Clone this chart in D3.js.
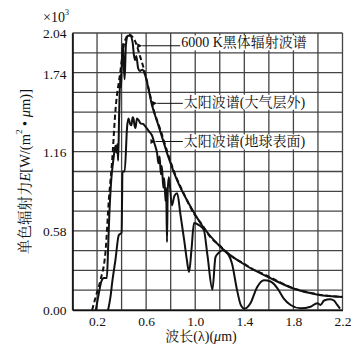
<!DOCTYPE html>
<html>
<head>
<meta charset="utf-8">
<script src="https://cdn.jsdelivr.net/npm/d3@7"></script>
<style>
body { margin: 0; background: #fff; }
svg { font-family: "Liberation Serif", "Noto Serif CJK SC", "Noto Sans CJK SC", serif; }
</style>
</head>
<body>
<div id="chart"></div>
<script>
// [波长 μm, 单色辐射力 ×10^3]
var blackBody = [
  [0.16,0.00],[0.19,0.10],[0.228,0.22],[0.27,0.44],[0.296,0.81],[0.323,1.10],[0.35,1.47],
  [0.39,1.755],[0.418,1.95],[0.44,2.01],[0.456,2.03],[0.48,2.02],[0.51,1.98],[0.55,1.87],
  [0.595,1.73],[0.63,1.59],[0.663,1.47],[0.717,1.325],[0.785,1.13],[0.84,0.99],[0.9,0.87],
  [0.99,0.71],[1.05,0.635],[1.125,0.535],[1.2,0.475],[1.26,0.42],[1.33,0.375],[1.4,0.34],
  [1.47,0.30],[1.53,0.275],[1.614,0.24],[1.7,0.20],[1.8,0.16],[1.9,0.135],[2.0,0.115],
  [2.1,0.103],[2.2,0.097]
];
var solarOuter = [
  [0.19,0.00],[0.21,0.10],[0.235,0.21],[0.255,0.235],[0.28,0.235],[0.29,0.45],[0.30,0.70],
  [0.315,0.95],[0.335,1.12],[0.35,1.21],[0.358,1.16],[0.365,1.22],[0.372,1.10],[0.38,1.44],
  [0.39,1.73],[0.395,1.64],[0.40,1.76],[0.41,1.96],[0.418,1.80],[0.425,1.70],[0.435,1.95],
  [0.45,2.02],[0.47,2.02],[0.49,1.97],[0.50,1.88],[0.51,1.84],[0.52,1.87],[0.535,1.78],
  [0.55,1.76],[0.57,1.77],[0.595,1.72],[0.65,1.50],[0.70,1.36],[0.78,1.13],[0.85,0.96],
  [0.95,0.78],[1.05,0.63],[1.2,0.47],[1.4,0.335],[1.6,0.24],[1.8,0.158],[2.0,0.113],[2.2,0.096]
];
var solarGround = [
  [0.29,0.00],[0.31,0.10],[0.323,0.20],[0.35,0.37],[0.377,0.55],[0.40,0.57],[0.404,0.81],
  [0.407,1.02],[0.425,1.02],[0.445,1.35],[0.456,1.41],[0.47,1.37],[0.48,1.36],[0.49,1.42],
  [0.497,1.41],[0.505,1.36],[0.513,1.34],[0.525,1.41],[0.538,1.40],[0.554,1.375],[0.575,1.37],
  [0.595,1.35],[0.62,1.32],[0.65,1.28],[0.67,1.22],[0.69,1.15],[0.70,1.08],[0.71,1.13],
  [0.72,1.00],[0.728,1.06],[0.74,0.90],[0.748,0.97],[0.758,0.80],[0.763,0.90],[0.77,0.50],
  [0.776,0.88],[0.785,0.98],[0.81,0.77],[0.83,0.84],[0.853,0.86],[0.88,0.70],[0.91,0.515],
  [0.93,0.38],[0.95,0.28],[0.97,0.45],[0.99,0.64],[1.03,0.625],[1.07,0.59],[1.10,0.40],
  [1.14,0.15],[1.165,0.39],[1.19,0.42],[1.22,0.44],[1.26,0.42],[1.30,0.34],[1.34,0.15],
  [1.37,0.04],[1.40,0.01],[1.45,0.05],[1.505,0.17],[1.56,0.22],[1.614,0.21],[1.67,0.16],
  [1.72,0.086],[1.777,0.037],[1.86,0.012],[1.94,0.024],[1.994,0.05],[2.02,0.037],[2.05,0.07],
  [2.10,0.08],[2.13,0.07],[2.157,0.037],[2.18,0.01]
];

var xTicks = [0.2, 0.6, 1.0, 1.4, 1.8, 2.2];
var yTicks = [0, 0.58, 1.16, 1.74, 2.04];
var xGrid = [0, 0.2, 0.4, 0.6, 0.8, 1.0, 1.2, 1.4, 1.6, 1.8, 2.0, 2.2];
var yGrid = d3.range(15).map(function(k){ return k * 2.04 / 14; });

var labelTexts = ["6000 K黑体辐射波谱", "太阳波谱(大气层外)", "太阳波谱(地球表面)"];
var labelTips = [[0.568, 1.946], [0.69, 1.522], [0.676, 1.241]];
var labelAnchors = [[0.886, 1.967], [0.907, 1.53], [0.907, 1.238]];

var W = 357, H = 353;
var margin = {top:33, right:14.5, bottom:43, left:72.5};
var width = W - margin.left - margin.right,
    height = H - margin.top - margin.bottom;

var x = d3.scaleLinear().domain([0, 2.2]).range([0, width]);
var y = d3.scaleLinear().domain([0, 2.04]).range([height, 0]);

var svgRoot = d3.select("#chart").append("svg")
  .attr("width", W).attr("height", H);

var defs = svgRoot.append("defs");
defs.append("marker")
  .attr("id", "arrow")
  .attr("viewBox", "0 0 10 10")
  .attr("refX", 0).attr("refY", 5)
  .attr("markerWidth", 7).attr("markerHeight", 5)
  .attr("markerUnits", "userSpaceOnUse")
  .attr("orient", "auto-start-reverse")
  .append("path").attr("d", "M10,0 L0,5 L10,10 z").attr("fill", "#111");

var svg = svgRoot.append("g")
  .attr("transform", "translate(" + margin.left + "," + margin.top + ")");

// 격자
var grid = svg.append("g").attr("class", "grid");
grid.selectAll(".vgrid").data(xGrid).enter().append("line")
  .attr("class", "vgrid")
  .attr("x1", function(d){ return x(d); }).attr("x2", function(d){ return x(d); })
  .attr("y1", 0).attr("y2", height)
  .attr("stroke", "#444").attr("stroke-width", 1.3);
grid.selectAll(".hgrid").data(yGrid).enter().append("line")
  .attr("class", "hgrid")
  .attr("x1", 0).attr("x2", width)
  .attr("y1", function(d){ return y(d); }).attr("y2", function(d){ return y(d); })
  .attr("stroke", "#444").attr("stroke-width", 1.3);

// 축
var xAxis = svg.append("g")
  .attr("transform", "translate(0," + height + ")")
  .call(d3.axisBottom(x).tickValues(xTicks).tickFormat(d3.format(".1f")).tickSize(0).tickPadding(6));
var yAxis = svg.append("g")
  .call(d3.axisLeft(y).tickValues(yTicks).tickFormat(d3.format(".2f")).tickSize(0).tickPadding(6));
[xAxis, yAxis].forEach(function(a){
  a.attr("font-family", null).attr("font-size", 13.5);
  a.select(".domain").attr("stroke", "#111").attr("stroke-width", 1.6);
  a.selectAll("text").attr("fill", "#111");
});

// 곡선
var line = d3.line()
  .x(function(d){ return x(d[0]); })
  .y(function(d){ return y(d[1]); })
  .curve(d3.curveMonotoneX);

svg.append("path").datum(blackBody)
  .attr("fill", "none").attr("stroke", "#111").attr("stroke-width", 2)
  .attr("stroke-dasharray", "5,3")
  .attr("d", line);
svg.append("path").datum(solarOuter)
  .attr("fill", "none").attr("stroke", "#111").attr("stroke-width", 2)
  .attr("stroke-linejoin", "round")
  .attr("d", line);
svg.append("path").datum(solarGround)
  .attr("fill", "none").attr("stroke", "#111").attr("stroke-width", 2)
  .attr("stroke-linejoin", "round")
  .attr("d", line);

// 주석
labelTexts.forEach(function(t, i){
  var g = svg.append("g");
  var tx = g.append("text")
    .attr("x", x(labelAnchors[i][0]))
    .attr("y", y(labelAnchors[i][1]))
    .attr("dominant-baseline", "central")
    .attr("font-size", 14)
    .attr("fill", "#111")
    .text(t);
  var bb = tx.node().getBBox();
  g.insert("rect", "text")
    .attr("x", bb.x - 1).attr("y", y(labelAnchors[i][1]) - 7.5)
    .attr("width", bb.width + 3).attr("height", 15)
    .attr("fill", "#fff");
  g.append("line")
    .attr("x1", x(labelTips[i][0])).attr("y1", y(labelTips[i][1]))
    .attr("x2", x(labelAnchors[i][0]) - 1).attr("y2", y(labelTips[i][1]))
    .attr("stroke", "#111").attr("stroke-width", 1)
    .attr("marker-start", "url(#arrow)");
});

// ×10³
var unit = svgRoot.append("text")
  .attr("x", 43).attr("y", 22)
  .attr("font-size", 14).attr("fill", "#111");
unit.append("tspan").text("×10");
unit.append("tspan").attr("font-size", 8).attr("dy", -7).text("3");

// y축 제목
var yTitle = svgRoot.append("text")
  .attr("transform", "translate(25," + (margin.top + height / 2) + ") rotate(-90)")
  .attr("text-anchor", "middle")
  .attr("dominant-baseline", "central")
  .attr("font-size", 14.5).attr("fill", "#111");
yTitle.append("tspan").text("单色辐射力");
yTitle.append("tspan").attr("font-style", "italic").text("E");
yTitle.append("tspan").text("[W/(m");
yTitle.append("tspan").attr("font-size", 9).attr("dy", -6).text("2");
yTitle.append("tspan").attr("dy", 6).text(" • ");
yTitle.append("tspan").attr("font-style", "italic").text("μ");
yTitle.append("tspan").text("m)]");

// x축 제목
var xTitle = svgRoot.append("text")
  .attr("x", 201).attr("y", 340.5)
  .attr("text-anchor", "middle")
  .attr("font-size", 14).attr("fill", "#111");
xTitle.append("tspan").text("波长(λ)(");
xTitle.append("tspan").attr("font-style", "italic").text("μ");
xTitle.append("tspan").text("m)");
</script>
</body>
</html>
